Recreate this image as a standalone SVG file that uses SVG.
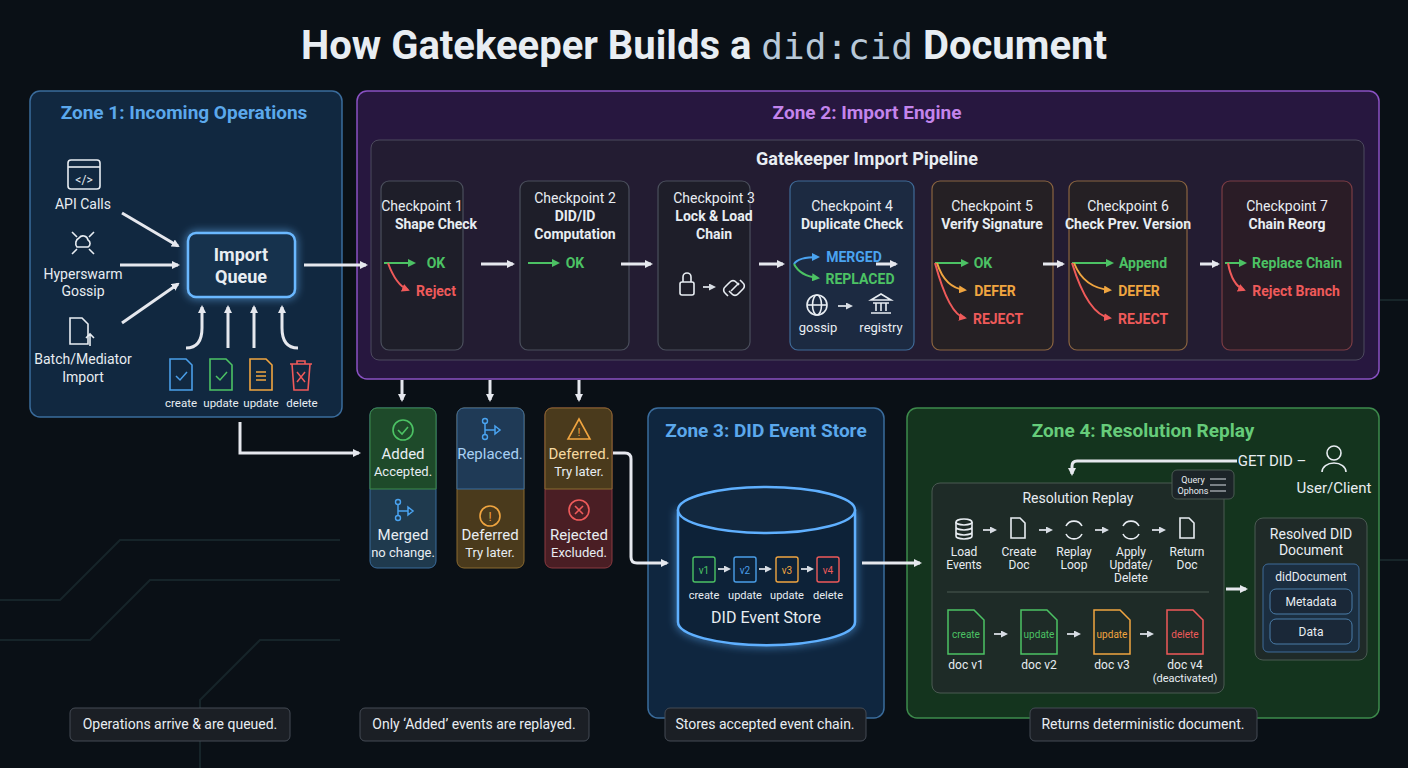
<svg xmlns="http://www.w3.org/2000/svg" width="1408" height="768" viewBox="0 0 1408 768">
<defs>
<style>
text{font-family:Roboto,"Liberation Sans",sans-serif;fill:#e8edf2}
.t{font-size:14px;text-anchor:middle}
.b{font-weight:700}
.zt{font-size:19px;font-weight:700;text-anchor:middle}
.cp{fill:#1d1f27;fill-opacity:.75;stroke:#4a4f5c;stroke-width:1.2}
.arw{stroke:#e6e8ee;stroke-width:3;fill:none;marker-end:url(#wa)}
.ln{stroke:#d8dde4;stroke-width:1.8;fill:none;marker-end:url(#sa)}
.g{stroke:#4cc264;stroke-width:2;fill:none;marker-end:url(#ga)}
.r{stroke:#ef5a5a;stroke-width:2;fill:none;marker-end:url(#ra)}
.o{stroke:#f0a540;stroke-width:2;fill:none;marker-end:url(#oa)}
.bl{stroke:#4aa3f0;stroke-width:2;fill:none;marker-end:url(#ba)}
.ic{stroke:#e8edf2;stroke-width:1.6;fill:none}
.note{fill:#1b1f25;stroke:#454b55;stroke-width:1}
</style>
<marker id="wa" markerWidth="8" markerHeight="8" refX="6" refY="4" orient="auto" markerUnits="userSpaceOnUse"><path d="M0,0L8,4L0,8z" fill="#e6e8ee"/></marker>
<marker id="sa" markerWidth="7" markerHeight="7" refX="5" refY="3.5" orient="auto" markerUnits="userSpaceOnUse"><path d="M0,0L7,3.5L0,7z" fill="#d8dde4"/></marker>
<marker id="ga" markerWidth="8" markerHeight="8" refX="6" refY="4" orient="auto" markerUnits="userSpaceOnUse"><path d="M0,0L8,4L0,8z" fill="#4cc264"/></marker>
<marker id="ra" markerWidth="8" markerHeight="8" refX="6" refY="4" orient="auto" markerUnits="userSpaceOnUse"><path d="M0,0L8,4L0,8z" fill="#ef5a5a"/></marker>
<marker id="oa" markerWidth="8" markerHeight="8" refX="6" refY="4" orient="auto" markerUnits="userSpaceOnUse"><path d="M0,0L8,4L0,8z" fill="#f0a540"/></marker>
<marker id="ba" markerWidth="8" markerHeight="8" refX="6" refY="4" orient="auto" markerUnits="userSpaceOnUse"><path d="M0,0L8,4L0,8z" fill="#4aa3f0"/></marker>
<filter id="glow" x="-30%" y="-30%" width="160%" height="160%"><feGaussianBlur stdDeviation="4" result="b"/><feMerge><feMergeNode in="b"/><feMergeNode in="SourceGraphic"/></feMerge></filter>
</defs>
<rect width="1408" height="768" fill="#0a1016"/>
<g stroke="#1a2a2e" stroke-width="2" fill="none" opacity=".8">
<path d="M0,600 L60,600 L120,540 L340,540"/><path d="M0,640 L90,640 L150,580 L340,580"/><path d="M200,768 L200,700 L260,640 L340,640"/><path d="M1380,300 L1408,300"/><path d="M1380,560 L1408,560"/>
</g>
<text x="704" y="59" style="font-size:40px;font-weight:700;text-anchor:middle">How Gatekeeper Builds a <tspan style="font-family:'DejaVu Sans Mono',monospace;fill:#b8c8d8;font-weight:400;font-size:36px">did:cid</tspan> Document</text>

<g id="zone1"><rect x="30" y="91" width="312" height="326" rx="10" fill="#132d48" fill-opacity=".85" stroke="#3a6c9c" stroke-width="1.5"/><text x="184" y="119" class="zt" style="fill:#5ba8ec">Zone 1: Incoming Operations</text></g>
<g id="zone2"><rect x="357" y="91" width="1022" height="288" rx="10" fill="#2a1844" fill-opacity=".9" stroke="#8a52c4" stroke-width="1.5"/><text x="867" y="119" class="zt" style="fill:#c384ec">Zone 2: Import Engine</text>
<rect x="371" y="140" width="993" height="220" rx="8" fill="#22202e" fill-opacity=".7" stroke="#4d4a5e"/><text x="867" y="165" class="zt" style="font-size:18px">Gatekeeper Import Pipeline</text></g>
<g id="zone3"><rect x="648" y="408" width="236" height="310" rx="10" fill="#102944" fill-opacity=".9" stroke="#3a6c9c" stroke-width="1.5"/><text x="766" y="437" class="zt" style="fill:#5ba8ec">Zone 3: DID Event Store</text></g>
<g id="zone4"><rect x="907" y="408" width="472" height="310" rx="10" fill="#15371f" fill-opacity=".95" stroke="#3d8a4c" stroke-width="1.5"/><text x="1143" y="437" class="zt" style="fill:#66cc7a">Zone 4: Resolution Replay</text></g>

<g id="api"><rect x="68" y="160" width="32" height="29" rx="3" class="ic"/><line x1="68" y1="167" x2="100" y2="167" class="ic"/><text x="84" y="184" class="t" style="font-size:12px">&lt;/&gt;</text><text x="83" y="209" class="t">API Calls</text></g>
<g id="hyperswarm"><path d="M77,247a6,6 0 0 1 2,-9a5,5 0 0 1 9,2a4,4 0 0 1 0,7z" class="ic"/><path d="M72,232l5,5M94,232l-5,5M72,254l5,-5M94,254l-5,-5" class="ic"/><text x="83" y="279" class="t">Hyperswarm</text><text x="83" y="296" class="t">Gossip</text></g>
<g id="batch"><path d="M70,318h12l6,6v20h-18z" class="ic"/><path d="M90,346v-12M86,338l4,-4l4,4" class="ic"/><text x="83" y="364" class="t">Batch/Mediator</text><text x="83" y="382" class="t">Import</text></g>
<g id="queue"><rect x="188" y="233" width="107" height="64" rx="8" fill="#15304e" stroke="#6ab8ff" stroke-width="2.5" filter="url(#glow)"/><text x="241" y="261" class="t b" style="font-size:18px">Import</text><text x="241" y="283" class="t b" style="font-size:18px">Queue</text></g>
<g id="ops">
<path d="M170,359h16l6,6v25h-22z" stroke="#4a9ee8" stroke-width="1.6" fill="none"/><path d="M176,376l4,4l7,-8" stroke="#4a9ee8" stroke-width="1.5" fill="none"/>
<path d="M210,359h16l6,6v25h-22z" stroke="#4cc264" stroke-width="1.6" fill="none"/><path d="M216,376l4,4l7,-8" stroke="#4cc264" stroke-width="1.5" fill="none"/>
<path d="M250,359h16l6,6v25h-22z" stroke="#f0a540" stroke-width="1.6" fill="none"/><path d="M256,372h10M256,376h10M256,380h10" stroke="#f0a540" stroke-width="1.5"/>
<path d="M290,364h22M297,364v-3h8v3M292,364l2,26h14l2,-26" stroke="#ef5a5a" stroke-width="1.6" fill="none"/><path d="M297,372l8,10M305,372l-8,10" stroke="#ef5a5a" stroke-width="1.5"/>
<text x="181" y="407" class="t" style="font-size:11.5px">create</text><text x="221" y="407" class="t" style="font-size:11.5px">update</text><text x="261" y="407" class="t" style="font-size:11.5px">update</text><text x="302" y="407" class="t" style="font-size:11.5px">delete</text>
</g>

<g id="cp1"><rect x="381" y="181" width="82" height="169" rx="8" class="cp"/><text x="422" y="211" class="t">Checkpoint 1</text><text x="436" y="229" class="t b">Shape Check</text><path d="M384,263h30" class="g"/><text x="436" y="268" class="t b" style="fill:#4cc264">OK</text><path d="M388,263q8,22 20,27" class="r"/><text x="436" y="296" class="t b" style="fill:#ef5a5a">Reject</text></g>
<g id="cp2"><rect x="520" y="181" width="109" height="169" rx="8" class="cp"/><text x="575" y="203" class="t">Checkpoint 2</text><text x="575" y="221" class="t b">DID/ID</text><text x="575" y="239" class="t b">Computation</text><path d="M528,263h30" class="g"/><text x="575" y="268" class="t b" style="fill:#4cc264">OK</text></g>
<g id="cp3"><rect x="658" y="181" width="92" height="169" rx="8" class="cp"/><text x="714" y="203" class="t">Checkpoint 3</text><text x="714" y="221" class="t b">Lock &amp; Load</text><text x="714" y="239" class="t b">Chain</text>
<rect x="680" y="282" width="14" height="13" rx="2" class="ic"/><path d="M683,282v-5a4,4 0 0 1 8,0v5" class="ic"/><path d="M703,287h11" class="ln"/><path d="M728,296l-3,-3a4,4 0 0 1 0,-6l5,-5a4,4 0 0 1 6,0l3,3" class="ic"/><path d="M740,280l3,3a4,4 0 0 1 0,6l-5,5a4,4 0 0 1 -6,0l-3,-3" class="ic"/><path d="M731,291l8,-8" class="ic"/></g>
<g id="cp4"><rect x="790" y="181" width="124" height="169" rx="8" fill="#1b2d44" fill-opacity=".85" stroke="#3f6b98" stroke-width="1.2"/><text x="852" y="211" class="t">Checkpoint 4</text><text x="852" y="229" class="t b">Duplicate Check</text>
<path d="M794,264q4,-7 24,-7" class="bl"/><text x="854" y="262" class="t b" style="fill:#4aa3f0">MERGED</text><path d="M794,264q6,12 24,14" class="g"/><text x="860" y="284" class="t b" style="fill:#4cc264">REPLACED</text>
<circle cx="817" cy="305" r="10" class="ic"/><ellipse cx="817" cy="305" rx="4.5" ry="10" class="ic"/><path d="M807,305h20" class="ic"/><path d="M838,306h13" class="ln"/><path d="M871,300l10,-6l10,6zM873,303h16M876,303v8M881,303v8M886,303v8M871,313h20" class="ic"/><text x="818" y="332" class="t" style="font-size:13px">gossip</text><text x="881" y="332" class="t" style="font-size:13px">registry</text></g>
<g id="cp5"><rect x="932" y="181" width="121" height="169" rx="8" fill="#262220" fill-opacity=".8" stroke="#8a6440" stroke-width="1.2"/><text x="992" y="211" class="t">Checkpoint 5</text><text x="992" y="229" class="t b">Verify Signature</text>
<path d="M935,263h32" class="g"/><text x="983" y="268" class="t b" style="fill:#4cc264">OK</text><path d="M937,263q8,25 28,27" class="o"/><text x="995" y="296" class="t b" style="fill:#f0a540">DEFER</text><path d="M935,263q14,52 30,55" class="r"/><text x="998" y="324" class="t b" style="fill:#ef5a5a">REJECT</text></g>
<g id="cp6"><rect x="1069" y="181" width="118" height="169" rx="8" fill="#262220" fill-opacity=".8" stroke="#8a6440" stroke-width="1.2"/><text x="1128" y="211" class="t">Checkpoint 6</text><text x="1128" y="229" class="t b">Check Prev. Version</text>
<path d="M1072,263h40" class="g"/><text x="1143" y="268" class="t b" style="fill:#4cc264">Append</text><path d="M1074,263q10,25 36,27" class="o"/><text x="1139" y="296" class="t b" style="fill:#f0a540">DEFER</text><path d="M1072,263q16,52 38,55" class="r"/><text x="1143" y="324" class="t b" style="fill:#ef5a5a">REJECT</text></g>
<g id="cp7"><rect x="1222" y="181" width="130" height="169" rx="8" fill="#2c1c24" fill-opacity=".85" stroke="#7a3c44" stroke-width="1.2"/><text x="1287" y="211" class="t">Checkpoint 7</text><text x="1287" y="229" class="t b">Chain Reorg</text>
<path d="M1225,263h20" class="g"/><text x="1297" y="268" class="t b" style="fill:#4cc264">Replace Chain</text><path d="M1228,263q4,22 16,27" class="r"/><text x="1296" y="296" class="t b" style="fill:#ef5a5a">Reject Branch</text></g>

<g id="status-added"><rect x="370" y="408" width="66" height="160" rx="7" fill="#1f3a4e" stroke="#3a6c9c"/><path d="M370,489v-74a7,7 0 0 1 7,-7h52a7,7 0 0 1 7,7v74z" fill="#1e4a2a" stroke="#3d8a4c"/>
<circle cx="403" cy="430" r="10" stroke="#4cc264" stroke-width="1.6" fill="none"/><path d="M398,430l4,4l6,-7" stroke="#4cc264" stroke-width="1.6" fill="none"/><text x="403" y="459" class="t" style="font-size:15px">Added</text><text x="403" y="476" class="t" style="font-size:13px">Accepted.</text>
<circle cx="398" cy="502" r="2.5" stroke="#4aa3f0" stroke-width="1.4" fill="none"/><circle cx="398" cy="518" r="2.5" stroke="#4aa3f0" stroke-width="1.4" fill="none"/><path d="M398,505v10M398,511h10M408,507l5,4l-5,4z" stroke="#4aa3f0" stroke-width="1.5" fill="none"/><text x="403" y="540" class="t" style="font-size:15px">Merged</text><text x="403" y="557" class="t" style="font-size:13px">no change.</text></g>
<g id="status-replaced"><rect x="457" y="408" width="67" height="160" rx="7" fill="#4a3a1c" stroke="#8a6a30"/><path d="M457,489v-74a7,7 0 0 1 7,-7h53a7,7 0 0 1 7,7v74z" fill="#1f3a56" stroke="#3a6c9c"/>
<circle cx="485" cy="421" r="2.5" stroke="#4aa3f0" stroke-width="1.4" fill="none"/><circle cx="485" cy="437" r="2.5" stroke="#4aa3f0" stroke-width="1.4" fill="none"/><path d="M485,424v10M485,430h10M495,426l5,4l-5,4z" stroke="#4aa3f0" stroke-width="1.5" fill="none"/><text x="490" y="459" class="t" style="font-size:15px;fill:#a8d0f4">Replaced.</text>
<circle cx="490" cy="516" r="10" stroke="#f0a540" stroke-width="1.6" fill="none"/><text x="490" y="521" class="t" style="font-size:12px;fill:#f0a540">!</text><text x="490" y="540" class="t" style="font-size:15px">Deferred</text><text x="490" y="557" class="t" style="font-size:13px">Try later.</text></g>
<g id="status-deferred"><rect x="545" y="408" width="67" height="160" rx="7" fill="#4a1e24" stroke="#8a3a40"/><path d="M545,489v-74a7,7 0 0 1 7,-7h53a7,7 0 0 1 7,7v74z" fill="#4a3a1c" stroke="#8a6a30"/>
<path d="M579,419l11,20h-22z" stroke="#f0a540" stroke-width="1.6" fill="none"/><text x="579" y="436" class="t" style="font-size:11px;fill:#f0a540">!</text><text x="579" y="459" class="t" style="font-size:15px;fill:#f4d8a0">Deferred.</text><text x="579" y="476" class="t" style="font-size:13px">Try later.</text>
<circle cx="579" cy="510" r="10" stroke="#ef5a5a" stroke-width="1.6" fill="none"/><path d="M575,506l8,8M583,506l-8,8" stroke="#ef5a5a" stroke-width="1.6"/><text x="579" y="540" class="t" style="font-size:15px">Rejected</text><text x="579" y="557" class="t" style="font-size:13px">Excluded.</text></g>

<g id="event-store"><path d="M678,510v112a88,23 0 0 0 177,0v-112" fill="#0e2238" stroke="#5fb0ff" stroke-width="2.5" filter="url(#glow)"/><ellipse cx="766.5" cy="510" rx="88.5" ry="23" fill="#12283f" stroke="#5fb0ff" stroke-width="2.5"/>
<rect x="693" y="557" width="22" height="25" rx="2" stroke="#4cc264" fill="none" stroke-width="1.4"/><text x="704" y="574" class="t" style="font-size:10px;fill:#4cc264">v1</text>
<rect x="734" y="557" width="22" height="25" rx="2" stroke="#4a9ee8" fill="none" stroke-width="1.4"/><text x="745" y="574" class="t" style="font-size:10px;fill:#4a9ee8">v2</text>
<rect x="776" y="557" width="22" height="25" rx="2" stroke="#f0a540" fill="none" stroke-width="1.4"/><text x="787" y="574" class="t" style="font-size:10px;fill:#f0a540">v3</text>
<rect x="817" y="557" width="22" height="25" rx="2" stroke="#ef5a5a" fill="none" stroke-width="1.4"/><text x="828" y="574" class="t" style="font-size:10px;fill:#ef5a5a">v4</text>
<path d="M718,569h11" class="ln"/><path d="M759,569h11" class="ln"/><path d="M801,569h11" class="ln"/>
<text x="704" y="599" class="t" style="font-size:11px">create</text><text x="745" y="599" class="t" style="font-size:11px">update</text><text x="787" y="599" class="t" style="font-size:11px">update</text><text x="828" y="599" class="t" style="font-size:11px">delete</text>
<text x="766" y="623" class="t" style="font-size:16px">DID Event Store</text></g>

<g id="user"><circle cx="1334" cy="453" r="7" class="ic"/><path d="M1322,472a12,9 0 0 1 24,0" class="ic"/><text x="1334" y="493" class="t" style="font-size:15px">User/Client</text><text x="1272" y="466" class="t" style="font-size:15px">GET DID –</text></g>
<g id="replay"><rect x="932" y="483" width="292" height="210" rx="8" fill="#1f2a28" fill-opacity=".9" stroke="#4a5a52"/><text x="1078" y="503" class="t">Resolution Replay</text>
<rect x="1172" y="470" width="62" height="29" rx="5" fill="#1c2428" stroke="#4a5a52"/><text x="1193" y="483" class="t" style="font-size:9px">Query</text><text x="1193" y="494" class="t" style="font-size:9px">Ophons</text><path d="M1210,479h16M1210,485h16M1210,491h16" stroke="#d8dde4" stroke-width="1"/>
<ellipse cx="964" cy="522" rx="8" ry="3" class="ic"/><path d="M956,522v14a8,3 0 0 0 16,0v-14M956,527a8,3 0 0 0 16,0M956,532a8,3 0 0 0 16,0" class="ic"/>
<path d="M1011,518h9l5,5v15h-14z" class="ic"/><path d="M1066,526a9,9 0 0 1 16,0M1082,534a9,9 0 0 1 -16,0" class="ic"/><path d="M1123,526a9,9 0 0 1 16,0M1139,534a9,9 0 0 1 -16,0" class="ic"/><path d="M1180,518h9l5,5v15h-14z" class="ic"/>
<path d="M983,530h12" class="ln"/><path d="M1039,530h12" class="ln"/><path d="M1095,530h12" class="ln"/><path d="M1152,530h12" class="ln"/>
<text x="964" y="556" class="t" style="font-size:12px">Load</text><text x="964" y="569" class="t" style="font-size:12px">Events</text>
<text x="1019" y="556" class="t" style="font-size:12px">Create</text><text x="1019" y="569" class="t" style="font-size:12px">Doc</text>
<text x="1074" y="556" class="t" style="font-size:12px">Replay</text><text x="1074" y="569" class="t" style="font-size:12px">Loop</text>
<text x="1131" y="556" class="t" style="font-size:12px">Apply</text><text x="1131" y="569" class="t" style="font-size:12px">Update/</text><text x="1131" y="582" class="t" style="font-size:12px">Delete</text>
<text x="1187" y="556" class="t" style="font-size:12px">Return</text><text x="1187" y="569" class="t" style="font-size:12px">Doc</text>
<line x1="947" y1="592" x2="1209" y2="592" stroke="#4a5a52"/>
<path d="M948,610h26l10,10v34h-36z" fill="none" stroke="#4cc264" stroke-width="1.5"/><text x="966" y="638" class="t" style="font-size:10px;fill:#4cc264">create</text>
<path d="M1021,610h26l10,10v34h-36z" fill="none" stroke="#4cc264" stroke-width="1.5"/><text x="1039" y="638" class="t" style="font-size:10px;fill:#4cc264">update</text>
<path d="M1094,610h26l10,10v34h-36z" fill="none" stroke="#f0a540" stroke-width="1.5"/><text x="1112" y="638" class="t" style="font-size:10px;fill:#f0a540">update</text>
<path d="M1167,610h26l10,10v34h-36z" fill="none" stroke="#ef5a5a" stroke-width="1.5"/><text x="1185" y="638" class="t" style="font-size:10px;fill:#ef5a5a">delete</text>
<path d="M994,634h12" class="ln"/><path d="M1067,634h12" class="ln"/><path d="M1140,634h12" class="ln"/>
<text x="966" y="669" class="t" style="font-size:12px">doc v1</text><text x="1039" y="669" class="t" style="font-size:12px">doc v2</text><text x="1112" y="669" class="t" style="font-size:12px">doc v3</text><text x="1185" y="669" class="t" style="font-size:12px">doc v4</text><text x="1185" y="682" class="t" style="font-size:11px">(deactivated)</text></g>
<g id="resolved"><rect x="1255" y="518" width="112" height="142" rx="8" fill="#1f2a28" stroke="#4a5a52"/><text x="1311" y="539" class="t">Resolved DID</text><text x="1311" y="555" class="t">Document</text>
<rect x="1263" y="564" width="96" height="88" rx="5" fill="#1b2e40" stroke="#3f6b98"/><text x="1311" y="581" class="t" style="font-size:12px">didDocument</text>
<rect x="1270" y="589" width="82" height="25" rx="6" fill="#1a2838" stroke="#4a7ca8"/><text x="1311" y="606" class="t" style="font-size:12px">Metadata</text>
<rect x="1270" y="619" width="82" height="25" rx="6" fill="#1a2838" stroke="#4a7ca8"/><text x="1311" y="636" class="t" style="font-size:12px">Data</text></g>

<g id="connectors">
<path d="M122,213L178,246" class="arw"/><path d="M120,265h58" class="arw"/><path d="M122,323L178,284" class="arw"/>
<path d="M304,265h62" class="arw"/>
<path d="M186,348q16,0 16,-20v-21" class="arw"/><path d="M228,348v-41" class="arw"/><path d="M254,348v-41" class="arw"/><path d="M298,348q-16,0 -16,-20v-21" class="arw"/>
<path d="M481,264h32" class="arw"/><path d="M621,264h30" class="arw"/><path d="M759,264h24" class="arw"/><path d="M876,264h20" class="arw"/><path d="M1043,264h20" class="arw"/><path d="M1200,264h18" class="arw"/>
<path d="M402,380v20" class="arw"/><path d="M490,380v20" class="arw"/><path d="M579,380v20" class="arw"/>
<path d="M240,422v31h119" class="arw"/>
<path d="M613,453h12q6,0 6,6v98q0,6 6,6h30" class="arw"/>
<path d="M862,563h58" class="arw"/>
<path d="M1237,461h-160q-5,0 -5,5v8" class="arw"/>
<path d="M1226,589h20" class="arw"/>
</g>

<g id="notes">
<rect x="70" y="708" width="220" height="33" rx="5" class="note"/><text x="180" y="729" class="t">Operations arrive &amp; are queued.</text>
<rect x="360" y="708" width="229" height="33" rx="5" class="note"/><text x="474" y="729" class="t">Only ‘Added’ events are replayed.</text>
<rect x="665" y="708" width="201" height="33" rx="5" class="note"/><text x="765" y="729" class="t">Stores accepted event chain.</text>
<rect x="1030" y="708" width="227" height="33" rx="5" class="note"/><text x="1143" y="729" class="t">Returns deterministic document.</text>
</g>
</svg>
